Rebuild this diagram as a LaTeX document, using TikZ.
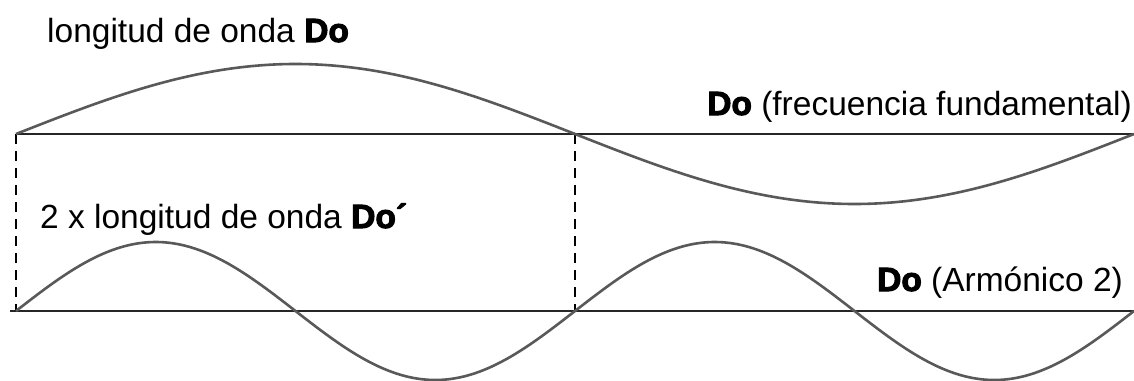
\documentclass[tikz,border=0pt]{standalone}
\usepackage{fontspec}
\setmainfont{Liberation Sans}
\newcommand{\heavy}[1]{{\bfseries\addfontfeature{FakeBold=3}#1}}
\begin{document}
\begin{tikzpicture}[x=1pt,y=-1pt,
  axisline/.style={draw=black!85,line width=1.8pt},
  wave/.style={draw=black!65,line width=2.6pt},
  guide/.style={draw=black,line width=1.8pt,dash pattern=on 10pt off 7pt},
  lbl/.style={anchor=base west,inner sep=0pt,font=\fontsize{33.5}{40}\selectfont}]
\useasboundingbox (0,0) rectangle (1134,380);
% coordinates
\coordinate (t0) at (16,134);
\coordinate (tm) at (575,134);
\coordinate (te) at (1134,134);
\coordinate (b0) at (16,311);
\coordinate (bs) at (10,311);
\coordinate (bm) at (575,311);
\coordinate (be) at (1134,311);
% axes
\draw[axisline] (t0) -- (te);
\draw[axisline] (bs) -- (be);
% dashed guides
\draw[guide] (t0) -- (b0);
\draw[guide] (tm) -- (bm);
% waves
\draw[wave] plot[domain=16:1134,samples=240,smooth] (\x,{134-70*sin((\x-16)/1118*360)});
\draw[wave] plot[domain=16:1134,samples=300,smooth] (\x,{311-69*sin((\x-16)/559*360)});
% labels
\node[lbl] (l1) at (47,42) {longitud de onda \heavy{Do}};
\node[lbl,anchor=base east] (l2) at (1132,115) {\heavy{Do} (frecuencia fundamental)};
\node[lbl] (l3) at (40,228) {2 x longitud de onda \heavy{Do´}};
\node[lbl] (l4) at (877,291) {\heavy{Do} (Armónico 2)};
\end{tikzpicture}
\end{document}
